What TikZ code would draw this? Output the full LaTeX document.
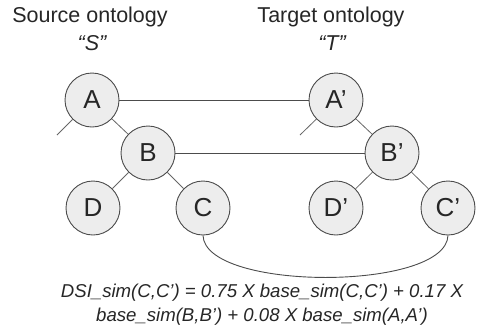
\documentclass[tikz,border=0pt]{standalone}
\usepackage{fontspec}
\setmainfont{Liberation Sans}
\begin{document}
\begin{tikzpicture}[x=1pt,y=-1pt,
  concept/.style={circle,draw=black!70,fill=black!7,line width=0.9pt,minimum size=54pt,inner sep=0pt,font=\fontsize{26}{30}\selectfont,text=black!85},
  link/.style={draw=black!70,line width=0.9pt},
  treeedge/.style={draw=black!60,line width=0.8pt},
  title/.style={font=\fontsize{21.5}{24}\selectfont,text=black!85,inner sep=0pt},
  formula/.style={font=\fontsize{18.6}{24}\selectfont\itshape,text=black!85,align=center,inner sep=0pt}]
\useasboundingbox (0,0) rectangle (480,333);
\node[title] (ts) at (90,17) {Source ontology};
\node[title] (tsq) at (92,43) {\itshape “S”};
\node[title] (tt) at (331,17) {Target ontology};
\node[title] (ttq) at (332,43) {\itshape “T”};
\node[concept] (A) at (92,100) {A};
\node[concept] (B) at (148,153) {B};
\node[concept] (D) at (93,208) {D};
\node[concept] (C) at (203,208) {C};
\node[concept] (A2) at (336,100) {A’};
\node[concept] (B2) at (392,153) {B’};
\node[concept] (D2) at (336,208) {D’};
\node[concept] (C2) at (448,208) {C’};
\coordinate (sa) at (57,135);
\coordinate (sa2) at (300,135);
\draw[treeedge] (A) -- (sa);
\draw[treeedge] (A) -- (B);
\draw[treeedge] (B) -- (D);
\draw[treeedge] (B) -- (C);
\draw[treeedge] (A2) -- (sa2);
\draw[treeedge] (A2) -- (B2);
\draw[treeedge] (B2) -- (D2);
\draw[treeedge] (B2) -- (C2);
\draw[link] (A) -- (A2);
\draw[link] (B) -- (B2);
\draw[link] (C.south) .. controls +(2,56) and +(-2,56) .. (C2.south);
\node[formula] (f) at (262,305) {DSI\_sim(C,C’) = 0.75 X base\_sim(C,C’) + 0.17 X\\base\_sim(B,B’) + 0.08 X base\_sim(A,A’)};
\end{tikzpicture}
\end{document}
